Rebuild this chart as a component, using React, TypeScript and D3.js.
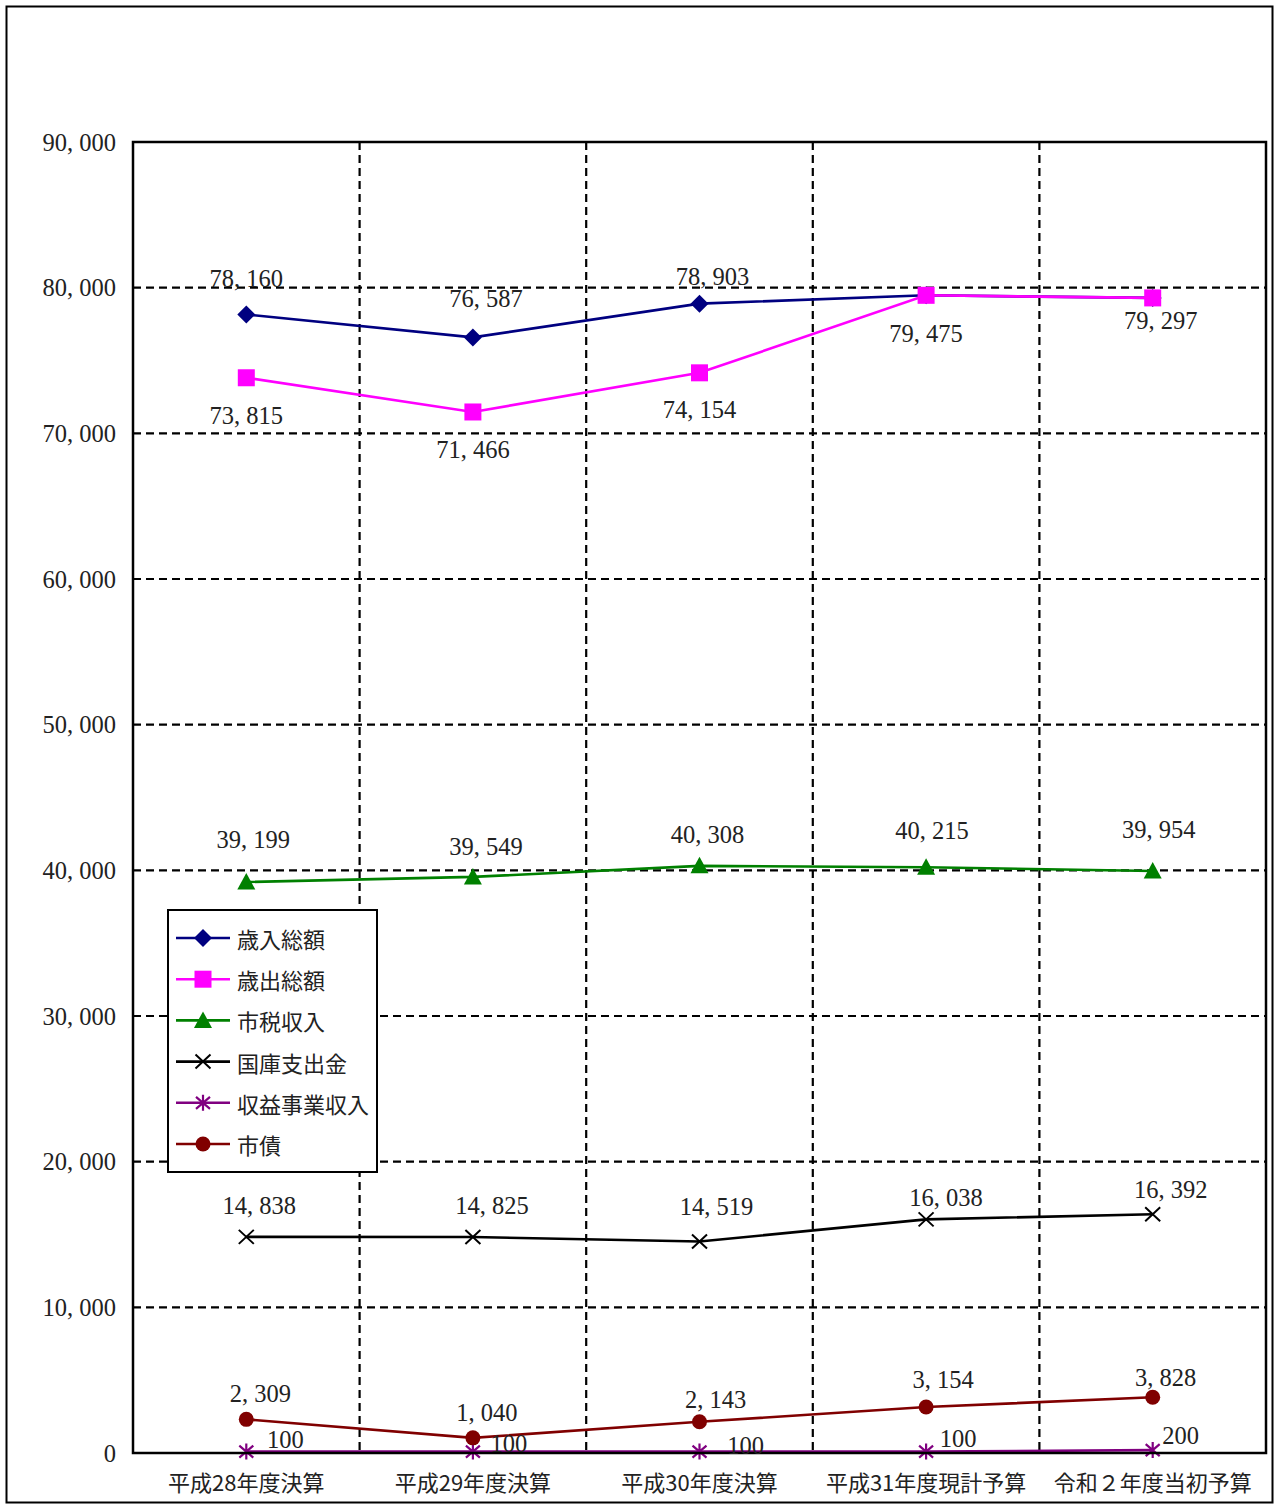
import React from "react";
import * as d3 from "d3";

const categories = ["平成28年度決算", "平成29年度決算", "平成30年度決算", "平成31年度現計予算", "令和２年度当初予算"];
const yTicks = [0, 10000, 20000, 30000, 40000, 50000, 60000, 70000, 80000, 90000];

const revenueTotal = [78160, 76587, 78903, 79475, 79297];
const expenditureTotal = [73815, 71466, 74154, 79475, 79297];
const cityTax = [39199, 39549, 40308, 40215, 39954];
const nationalSubsidy = [14838, 14825, 14519, 16038, 16392];
const profitBusiness = [100, 100, 100, 100, 200];
const cityBonds = [2309, 1040, 2143, 3154, 3828];

const seriesNames = ["歳入総額", "歳出総額", "市税収入", "国庫支出金", "収益事業収入", "市債"];

// label offsets (style only), null = no label
const revenueLabelOff: ([number, number] | null)[] = [[0, -36], [13, -39], [13, -27], null, null];
const expenditureLabelOff: ([number, number] | null)[] = [[0, 38], [0, 38], [0, 37], [0, 38], [8, 23]];
const cityTaxLabelOff: ([number, number] | null)[] = [[7, -43], [13, -30], [8, -31], [6, -37], [6, -42]];
const subsidyLabelOff: ([number, number] | null)[] = [[13, -31], [19, -32], [17, -35], [20, -22], [18, -25]];
const profitLabelOff: ([number, number] | null)[] = [[39, -12], [36, -8], [46, -6], [32, -13], [28, -15]];
const bondsLabelOff: ([number, number] | null)[] = [[14, -26], [14, -25], [16, -22], [17, -28], [13, -20]];

const W = 1277;
const H = 1508;
const PL = 133, PR = 1266, PT = 142, PB = 1453;

const numFont = "'Liberation Serif', 'Noto Sans CJK JP', serif";
const jpFont = "'Noto Sans CJK JP', 'Liberation Serif', serif";

const fmt = (v: number) => {
  const s = d3.format(",")(v);
  return s.replace(/,/g, ", ");
};

type MarkerKind = "diamond" | "square" | "triangle" | "x" | "star" | "circle";

function Marker({ kind, x, y, color }: { kind: MarkerKind; x: number; y: number; color: string }) {
  switch (kind) {
    case "diamond":
      return <path d={`M${x},${y - 9}L${x + 9},${y}L${x},${y + 9}L${x - 9},${y}Z`} fill={color} />;
    case "square":
      return <rect x={x - 8.5} y={y - 8.5} width={17} height={17} fill={color} />;
    case "triangle":
      return <path d={`M${x},${y - 9}L${x + 9},${y + 7.5}L${x - 9},${y + 7.5}Z`} fill={color} />;
    case "x":
      return (
        <path d={`M${x - 7.5},${y - 7}L${x + 7.5},${y + 7}M${x - 7.5},${y + 7}L${x + 7.5},${y - 7}`} stroke={color} strokeWidth={2} fill="none" />
      );
    case "star":
      return (
        <path
          d={`M${x - 7},${y - 6}L${x + 7},${y + 6}M${x - 7},${y + 6}L${x + 7},${y - 6}M${x},${y - 8}L${x},${y + 8}`}
          stroke={color}
          strokeWidth={2.2}
          fill="none"
        />
      );
    case "circle":
      return <circle cx={x} cy={y} r={7.5} fill={color} />;
  }
  return null;
}

export default function App() {
  const x = d3.scalePoint<string>().domain(categories).range([PL, PR]).padding(0.5);
  const band = (PR - PL) / categories.length;
  const y = d3.scaleLinear().domain([0, 90000]).range([PB, PT]);

  const series = [
    { name: seriesNames[0], values: revenueTotal, color: "#000080", kind: "diamond" as MarkerKind, offs: revenueLabelOff },
    { name: seriesNames[1], values: expenditureTotal, color: "#FF00FF", kind: "square" as MarkerKind, offs: expenditureLabelOff },
    { name: seriesNames[2], values: cityTax, color: "#008000", kind: "triangle" as MarkerKind, offs: cityTaxLabelOff },
    { name: seriesNames[3], values: nationalSubsidy, color: "#000000", kind: "x" as MarkerKind, offs: subsidyLabelOff },
    { name: seriesNames[4], values: profitBusiness, color: "#800080", kind: "star" as MarkerKind, offs: profitLabelOff },
    { name: seriesNames[5], values: cityBonds, color: "#800000", kind: "circle" as MarkerKind, offs: bondsLabelOff },
  ];

  const line = d3
    .line<number>()
    .x((_, i) => x(categories[i]) as number)
    .y((d) => y(d));

  const vLines = d3.range(1, categories.length).map((i) => PL + band * i);

  const legendX = 168, legendY = 910, legendW = 209, legendH = 262;
  const legendRow = 41.2;

  return (
    <div style={{ position: "absolute", left: 0, top: 0 }}>
      <svg width={W} height={H} style={{ display: "block", background: "#fff" }}>
        <rect x={6.5} y={6.5} width={1266} height={1496} fill="#fff" stroke="#000" strokeWidth={2} />
        {/* grid */}
        {yTicks
          .filter((t) => t > 0 && t < 90000)
          .map((t) => (
            <line key={"h" + t} x1={PL} x2={PR} y1={y(t)} y2={y(t)} stroke="#000" strokeWidth={2.2} strokeDasharray="8,5" />
          ))}
        {vLines.map((vx, i) => (
          <line key={"v" + i} x1={vx} x2={vx} y1={PT} y2={PB} stroke="#000" strokeWidth={2.2} strokeDasharray="8,5" />
        ))}
        {/* y tick labels */}
        {yTicks.map((t) => (
          <text key={"t" + t} x={116} y={y(t)} textAnchor="end" dominantBaseline="central" fontFamily={numFont} fontSize={24.5} fill="#222">
            {t === 0 ? "0" : fmt(t)}
          </text>
        ))}
        {/* category labels */}
        {categories.map((c) => (
          <text key={c} x={x(c) as number} y={1481} textAnchor="middle" dominantBaseline="central" fontFamily={jpFont} fontSize={22} fill="#222">
            {c}
          </text>
        ))}
        {/* series */}
        {series.map((s) => (
          <g key={s.name}>
            <path d={line(s.values) || ""} fill="none" stroke={s.color} strokeWidth={2.6} />
            {s.values.map((v, i) => (
              <Marker key={i} kind={s.kind} x={x(categories[i]) as number} y={y(v)} color={s.color} />
            ))}
          </g>
        ))}
        {/* plot border */}
        <rect x={PL} y={PT} width={PR - PL} height={PB - PT} fill="none" stroke="#000" strokeWidth={2.5} />
        {/* data labels */}
        {series.map((s) =>
          s.values.map((v, i) => {
            const o = s.offs[i];
            if (!o) return null;
            return (
              <text
                key={s.name + i}
                x={(x(categories[i]) as number) + o[0]}
                y={y(v) + o[1]}
                textAnchor="middle"
                dominantBaseline="central"
                fontFamily={numFont}
                fontSize={24.5}
                fill="#222"
              >
                {fmt(v)}
              </text>
            );
          })
        )}
        {/* legend */}
        <rect x={legendX} y={legendY} width={legendW} height={legendH} fill="#fff" stroke="#000" strokeWidth={2} />
        {series.map((s, i) => {
          const ly = 938 + i * legendRow;
          return (
            <g key={"lg" + s.name}>
              <line x1={176} x2={230} y1={ly} y2={ly} stroke={s.color} strokeWidth={2.6} />
              <Marker kind={s.kind} x={203} y={ly} color={s.color} />
              <text x={237} y={ly} dominantBaseline="central" fontFamily={jpFont} fontSize={22} fill="#222">
                {s.name}
              </text>
            </g>
          );
        })}
      </svg>
    </div>
  );
}
